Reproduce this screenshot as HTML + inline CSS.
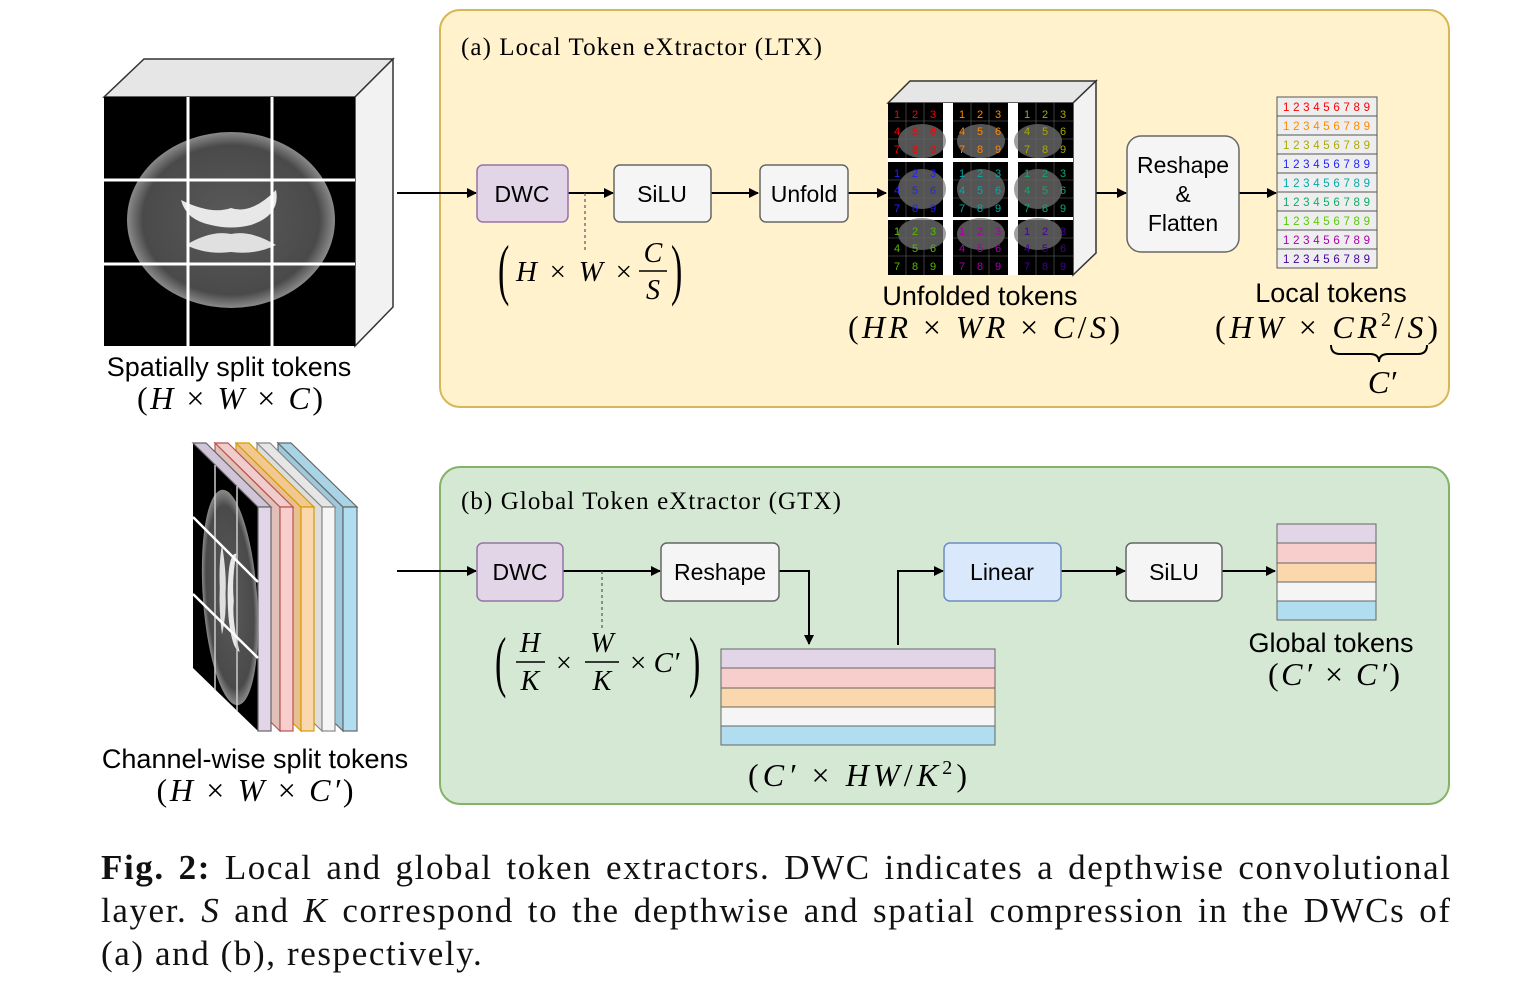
<!DOCTYPE html>
<html><head><meta charset="utf-8"><style>
html,body{margin:0;padding:0;background:#fff;width:1533px;height:994px;overflow:hidden;position:relative}
svg{position:absolute;left:0;top:0}
.s{font-family:"Liberation Sans",sans-serif}
.m{font-family:"Liberation Serif",serif;font-style:italic}
.r{font-family:"Liberation Serif",serif;font-style:normal}
#cap{position:absolute;left:101px;top:846px;width:1349px;font-family:"Liberation Serif",serif;font-size:35px;line-height:43px;color:#111;letter-spacing:1.6px}
#cap div{white-space:nowrap}
#cap .j{text-align:justify;text-align-last:justify;white-space:normal;margin-right:-1.6px}
#cap i{font-style:italic}
</style></head><body>
<svg width="1533" height="994" viewBox="0 0 1533 994">
<defs>
<marker id="a" markerWidth="10" markerHeight="10" refX="9" refY="5" orient="auto" markerUnits="userSpaceOnUse"><path d="M0,0 L10,5 L0,10 z" fill="#000"/></marker>
<radialGradient id="bg" cx="50%" cy="50%" r="50%"><stop offset="0" stop-color="#5a5a5a"/><stop offset="0.85" stop-color="#4a4a4a"/><stop offset="1" stop-color="#8a8a8a"/></radialGradient>
<g id="brain">
<ellipse cx="0" cy="0" rx="104" ry="88" fill="url(#bg)"/>
<path d="M-50,-20 Q-20,-5 0,-12 Q20,-5 45,-30 Q50,-5 20,5 Q0,10 -20,5 Q-45,0 -50,-20z" fill="#e8e8e8"/>
<path d="M-45,25 Q-20,10 0,14 Q20,10 45,25 Q25,35 0,32 Q-25,35 -45,25z" fill="#e0e0e0"/>
</g>
</defs>

<!-- panels -->
<rect x="440" y="10" width="1009" height="397" rx="20" fill="#fff2cc" stroke="#d6b656" stroke-width="2"/>
<rect x="440" y="467" width="1009" height="337" rx="20" fill="#d5e8d4" stroke="#82b366" stroke-width="2"/>
<text x="461" y="55" class="r" font-size="25" textLength="361">(a) Local Token eXtractor (LTX)</text>
<text x="461" y="509" class="r" font-size="25" textLength="380">(b) Global Token eXtractor (GTX)</text>

<!-- spatial cube -->
<polygon points="104,97 144,59 393,59 355,97" fill="#e6e6e6" stroke="#333" stroke-width="1.5"/>
<polygon points="355,97 393,59 393,307 355,346" fill="#f2f2f2" stroke="#333" stroke-width="1.5"/>
<rect x="104" y="97" width="251" height="249" fill="#000"/>
<use href="#brain" transform="translate(231,220)"/>
<g stroke="#fff" stroke-width="3"><line x1="188" y1="97" x2="188" y2="346"/><line x1="272" y1="97" x2="272" y2="346"/><line x1="104" y1="180" x2="355" y2="180"/><line x1="104" y1="264" x2="355" y2="264"/></g>
<text x="229" y="376" class="s" font-size="27" text-anchor="middle">Spatially split tokens</text>
<text x="230" y="409" class="m" font-size="32" text-anchor="middle" textLength="186" lengthAdjust="spacing"><tspan class="r">(</tspan>H <tspan class="r">×</tspan> W <tspan class="r">×</tspan> C<tspan class="r">)</tspan></text>

<!-- top flow -->
<g stroke="#000" stroke-width="2" fill="none">
<line x1="397" y1="193" x2="476" y2="193" marker-end="url(#a)"/>
<line x1="568" y1="193" x2="613" y2="193" marker-end="url(#a)"/>
<line x1="711" y1="193" x2="758" y2="193" marker-end="url(#a)"/>
<line x1="848" y1="193" x2="886" y2="193" marker-end="url(#a)"/>
<line x1="1088" y1="193" x2="1126" y2="193" marker-end="url(#a)"/>
<line x1="1239" y1="193" x2="1276" y2="193" marker-end="url(#a)"/>
</g>
<line x1="585" y1="193" x2="585" y2="250" stroke="#555" stroke-width="1.2" stroke-dasharray="3,3"/>
<rect x="477" y="165" width="91" height="57" rx="6" fill="#e1d5e7" stroke="#9673a6" stroke-width="1.5"/>
<text x="522" y="202" class="s" font-size="23" text-anchor="middle">DWC</text>
<rect x="614" y="165" width="97" height="57" rx="6" fill="#f5f5f5" stroke="#666" stroke-width="1.5"/>
<text x="662" y="202" class="s" font-size="23" text-anchor="middle">SiLU</text>
<rect x="760" y="165" width="88" height="57" rx="6" fill="#f5f5f5" stroke="#666" stroke-width="1.5"/>
<text x="804" y="202" class="s" font-size="23" text-anchor="middle">Unfold</text>

<!-- math (H x W x C/S) -->
<text x="498" y="146" class="r" font-size="34" transform="scale(1,2)">(</text>
<text x="516" y="281" class="m" font-size="29" textLength="116" lengthAdjust="spacing">H <tspan class="r">×</tspan> W <tspan class="r">×</tspan></text>
<text x="653" y="262" class="m" font-size="28" text-anchor="middle">C</text>
<line x1="639" y1="271" x2="667" y2="271" stroke="#000" stroke-width="1.5"/>
<text x="653" y="299" class="m" font-size="28" text-anchor="middle">S</text>
<text x="671" y="146" class="r" font-size="34" transform="scale(1,2)">)</text>

<!-- unfolded cube -->
<polygon points="888,103 910,81 1096,81 1073,103" fill="#e6e6e6" stroke="#333" stroke-width="1.5"/>
<polygon points="1073,103 1096,81 1096,253 1073,275" fill="#f2f2f2" stroke="#333" stroke-width="1.5"/>
<rect x="888" y="103" width="185" height="172" fill="#fff"/>
<g font-family="Liberation Sans,sans-serif" font-size="11" text-anchor="middle">
<g transform="translate(888,103)"><rect width="55" height="55" fill="#000"/><ellipse cx="34" cy="38" rx="24" ry="17" fill="#777" opacity=".7"/><g stroke="#666" stroke-width=".6"><path d="M18,0V55M36,0V55M0,18H55M0,36H55"/></g><g fill="#f00"><text x="9 27 45" y="15">123</text><text x="9 27 45" y="32">456</text><text x="9 27 45" y="50">789</text></g></g>
<g transform="translate(953,103)"><rect width="55" height="55" fill="#000"/><ellipse cx="28" cy="38" rx="24" ry="17" fill="#777" opacity=".7"/><g stroke="#666" stroke-width=".6"><path d="M18,0V55M36,0V55M0,18H55M0,36H55"/></g><g fill="#f80"><text x="9 27 45" y="15">123</text><text x="9 27 45" y="32">456</text><text x="9 27 45" y="50">789</text></g></g>
<g transform="translate(1018,103)"><rect width="55" height="55" fill="#000"/><ellipse cx="20" cy="38" rx="24" ry="17" fill="#777" opacity=".7"/><g stroke="#666" stroke-width=".6"><path d="M18,0V55M36,0V55M0,18H55M0,36H55"/></g><g fill="#aa0"><text x="9 27 45" y="15">123</text><text x="9 27 45" y="32">456</text><text x="9 27 45" y="50">789</text></g></g>
<g transform="translate(888,162)"><rect width="55" height="55" fill="#000"/><ellipse cx="34" cy="27" rx="24" ry="20" fill="#777" opacity=".7"/><g stroke="#666" stroke-width=".6"><path d="M18,0V55M36,0V55M0,18H55M0,36H55"/></g><g fill="#22f"><text x="9 27 45" y="15">123</text><text x="9 27 45" y="32">456</text><text x="9 27 45" y="50">789</text></g></g>
<g transform="translate(953,162)"><rect width="55" height="55" fill="#000"/><ellipse cx="28" cy="27" rx="24" ry="20" fill="#777" opacity=".7"/><g stroke="#666" stroke-width=".6"><path d="M18,0V55M36,0V55M0,18H55M0,36H55"/></g><g fill="#0aa"><text x="9 27 45" y="15">123</text><text x="9 27 45" y="32">456</text><text x="9 27 45" y="50">789</text></g></g>
<g transform="translate(1018,162)"><rect width="55" height="55" fill="#000"/><ellipse cx="20" cy="27" rx="24" ry="20" fill="#777" opacity=".7"/><g stroke="#666" stroke-width=".6"><path d="M18,0V55M36,0V55M0,18H55M0,36H55"/></g><g fill="#1a6"><text x="9 27 45" y="15">123</text><text x="9 27 45" y="32">456</text><text x="9 27 45" y="50">789</text></g></g>
<g transform="translate(888,220)"><rect width="55" height="55" fill="#000"/><ellipse cx="34" cy="14" rx="24" ry="16" fill="#777" opacity=".7"/><g stroke="#666" stroke-width=".6"><path d="M18,0V55M36,0V55M0,18H55M0,36H55"/></g><g fill="#5b0"><text x="9 27 45" y="15">123</text><text x="9 27 45" y="32">456</text><text x="9 27 45" y="50">789</text></g></g>
<g transform="translate(953,220)"><rect width="55" height="55" fill="#000"/><ellipse cx="28" cy="14" rx="24" ry="16" fill="#777" opacity=".7"/><g stroke="#666" stroke-width=".6"><path d="M18,0V55M36,0V55M0,18H55M0,36H55"/></g><g fill="#a0a"><text x="9 27 45" y="15">123</text><text x="9 27 45" y="32">456</text><text x="9 27 45" y="50">789</text></g></g>
<g transform="translate(1018,220)"><rect width="55" height="55" fill="#000"/><ellipse cx="20" cy="14" rx="24" ry="16" fill="#777" opacity=".7"/><g stroke="#666" stroke-width=".6"><path d="M18,0V55M36,0V55M0,18H55M0,36H55"/></g><g fill="#409"><text x="9 27 45" y="15">123</text><text x="9 27 45" y="32">456</text><text x="9 27 45" y="50">789</text></g></g>
</g>
<text x="980" y="305" class="s" font-size="27" text-anchor="middle">Unfolded tokens</text>
<text x="984" y="338" class="m" font-size="32" text-anchor="middle" textLength="272" lengthAdjust="spacing"><tspan class="r">(</tspan>HR <tspan class="r">×</tspan> WR <tspan class="r">×</tspan> C<tspan class="r">/</tspan>S<tspan class="r">)</tspan></text>

<rect x="1127" y="136" width="112" height="116" rx="14" fill="#f5f5f5" stroke="#666" stroke-width="1.5"/>
<text x="1183" y="173" class="s" font-size="23" text-anchor="middle">Reshape</text>
<text x="1183" y="202" class="s" font-size="23" text-anchor="middle">&amp;</text>
<text x="1183" y="231" class="s" font-size="23" text-anchor="middle">Flatten</text>

<!-- local tokens -->
<g font-family="Liberation Sans,sans-serif" font-size="11.5">
<g stroke="#555" stroke-width="1" fill="#eee">
<rect x="1277" y="97" width="100" height="19"/><rect x="1277" y="116" width="100" height="19"/><rect x="1277" y="135" width="100" height="19"/><rect x="1277" y="154" width="100" height="19"/><rect x="1277" y="173" width="100" height="19"/><rect x="1277" y="192" width="100" height="19"/><rect x="1277" y="211" width="100" height="19"/><rect x="1277" y="230" width="100" height="19"/><rect x="1277" y="249" width="100" height="19"/>
</g>
<text x="1283" y="111" fill="#f00" textLength="87">123456789</text>
<text x="1283" y="130" fill="#f80" textLength="87">123456789</text>
<text x="1283" y="149" fill="#aa0" textLength="87">123456789</text>
<text x="1283" y="168" fill="#22f" textLength="87">123456789</text>
<text x="1283" y="187" fill="#0aa" textLength="87">123456789</text>
<text x="1283" y="206" fill="#1a6" textLength="87">123456789</text>
<text x="1283" y="225" fill="#5c0" textLength="87">123456789</text>
<text x="1283" y="244" fill="#a0a" textLength="87">123456789</text>
<text x="1283" y="263" fill="#409" textLength="87">123456789</text>
</g>
<text x="1331" y="302" class="s" font-size="27" text-anchor="middle">Local tokens</text>
<text x="1215" y="338" class="m" font-size="32" textLength="223" lengthAdjust="spacing"><tspan class="r">(</tspan>HW <tspan class="r">×</tspan> CR<tspan font-size="20" class="r" dy="-12">2</tspan><tspan dy="12" class="r">/</tspan>S<tspan class="r">)</tspan></text>
<path d="M1331,345 Q1331,354 1340,354 L1370,354 Q1379,354 1379,362 Q1379,354 1388,354 L1418,354 Q1427,354 1427,345" fill="none" stroke="#000" stroke-width="2"/>
<text x="1382" y="393" class="m" font-size="32" text-anchor="middle">C′</text>

<!-- channel-wise stack -->
<g stroke-width="1.2">
<polygon points="278,443 343,507 343,731 278,668" fill="#9ec8dc" stroke="#666"/><polygon points="278,443 291,443 357,507 343,507" fill="#a8d4e6" stroke="#666"/><rect x="343" y="507" width="14" height="224" fill="#b1ddf0" stroke="#666"/>
<polygon points="257,443 322,507 322,731 257,668" fill="#ddd" stroke="#888"/><polygon points="257,443 270,443 335,507 322,507" fill="#e6e6e6" stroke="#888"/><rect x="322" y="507" width="13" height="224" fill="#f5f5f5" stroke="#888"/>
<polygon points="236,443 301,507 301,731 236,668" fill="#e8c090" stroke="#d79b00"/><polygon points="236,443 249,443 314,507 301,507" fill="#f0c890" stroke="#d79b00"/><rect x="301" y="507" width="13" height="224" fill="#fad7ac" stroke="#d79b00"/>
<polygon points="215,443 280,507 280,731 215,668" fill="#e0c0b8" stroke="#b85450"/><polygon points="215,443 228,443 293,507 280,507" fill="#f0cccc" stroke="#b85450"/><rect x="280" y="507" width="13" height="224" fill="#f8cecc" stroke="#b85450"/>
<polygon points="193,443 258,507 258,731 193,668" fill="#000"/><polygon points="193,443 206,443 271,507 258,507" fill="#d0c4d8" stroke="#666"/><rect x="258" y="507" width="13" height="224" fill="#e1d5e7" stroke="#666"/>
</g>
<g transform="matrix(1,0.985,0,1,193,443) translate(37,118) scale(0.32,1.0) rotate(90)"><use href="#brain"/></g>
<g stroke="#ccc" stroke-width="1.5"><line x1="215" y1="465" x2="215" y2="690"/><line x1="237" y1="486" x2="237" y2="711"/></g>
<g stroke="#fff" stroke-width="2.5"><line x1="193" y1="517" x2="258" y2="582"/><line x1="193" y1="594" x2="258" y2="658"/></g>
<text x="255" y="768" class="s" font-size="27" text-anchor="middle">Channel-wise split tokens</text>
<text x="255" y="801" class="m" font-size="32" text-anchor="middle" textLength="197" lengthAdjust="spacing"><tspan class="r">(</tspan>H <tspan class="r">×</tspan> W <tspan class="r">×</tspan> C′<tspan class="r">)</tspan></text>

<!-- bottom flow -->
<g stroke="#000" stroke-width="2" fill="none">
<line x1="397" y1="571" x2="476" y2="571" marker-end="url(#a)"/>
<line x1="563" y1="571" x2="660" y2="571" marker-end="url(#a)"/>
<polyline points="779,571 809,571 809,644" marker-end="url(#a)"/>
<polyline points="898,645 898,571 943,571" marker-end="url(#a)"/>
<line x1="1061" y1="571" x2="1125" y2="571" marker-end="url(#a)"/>
<line x1="1222" y1="571" x2="1275" y2="571" marker-end="url(#a)"/>
</g>
<line x1="602" y1="571" x2="602" y2="628" stroke="#555" stroke-width="1.2" stroke-dasharray="3,3"/>
<rect x="477" y="543" width="86" height="58" rx="6" fill="#e1d5e7" stroke="#9673a6" stroke-width="1.5"/>
<text x="520" y="580" class="s" font-size="23" text-anchor="middle">DWC</text>
<rect x="661" y="543" width="118" height="58" rx="6" fill="#f5f5f5" stroke="#666" stroke-width="1.5"/>
<text x="720" y="580" class="s" font-size="23" text-anchor="middle">Reshape</text>
<rect x="944" y="543" width="117" height="58" rx="6" fill="#dae8fc" stroke="#6c8ebf" stroke-width="1.5"/>
<text x="1002" y="580" class="s" font-size="23" text-anchor="middle">Linear</text>
<rect x="1126" y="543" width="96" height="58" rx="6" fill="#f5f5f5" stroke="#666" stroke-width="1.5"/>
<text x="1174" y="580" class="s" font-size="23" text-anchor="middle">SiLU</text>

<!-- math H/K x W/K x C' -->
<text x="495" y="342" class="r" font-size="34" transform="scale(1,2)">(</text>
<text x="530" y="652" class="m" font-size="28" text-anchor="middle">H</text>
<line x1="516" y1="662" x2="545" y2="662" stroke="#000" stroke-width="1.5"/>
<text x="530" y="690" class="m" font-size="28" text-anchor="middle">K</text>
<text x="556" y="672" class="r" font-size="28">×</text>
<text x="602" y="652" class="m" font-size="28" text-anchor="middle">W</text>
<line x1="585" y1="662" x2="619" y2="662" stroke="#000" stroke-width="1.5"/>
<text x="602" y="690" class="m" font-size="28" text-anchor="middle">K</text>
<text x="630" y="672" class="m" font-size="29"><tspan class="r">×</tspan> C′</text>
<text x="689" y="342" class="r" font-size="34" transform="scale(1,2)">)</text>

<!-- table -->
<g stroke="#666" stroke-width="1">
<rect x="721" y="649" width="274" height="19" fill="#e1d5e7"/>
<rect x="721" y="668" width="274" height="20" fill="#f8cecc"/>
<rect x="721" y="688" width="274" height="19" fill="#fad7ac"/>
<rect x="721" y="707" width="274" height="19" fill="#f5f5f5"/>
<rect x="721" y="726" width="274" height="19" fill="#b1ddf0"/>
</g>
<text x="748" y="786" class="m" font-size="32" textLength="219" lengthAdjust="spacing"><tspan class="r">(</tspan>C′ <tspan class="r">×</tspan> HW<tspan class="r">/</tspan>K<tspan class="r" font-size="20" dy="-12">2</tspan><tspan class="r" dy="12">)</tspan></text>

<!-- global tokens -->
<g stroke="#666" stroke-width="1">
<rect x="1277" y="524" width="99" height="19" fill="#e1d5e7"/>
<rect x="1277" y="543" width="99" height="20" fill="#f8cecc"/>
<rect x="1277" y="563" width="99" height="19" fill="#fad7ac"/>
<rect x="1277" y="582" width="99" height="19" fill="#f5f5f5"/>
<rect x="1277" y="601" width="99" height="19" fill="#b1ddf0"/>
</g>
<text x="1331" y="652" class="s" font-size="27" text-anchor="middle">Global tokens</text>
<text x="1334" y="685" class="m" font-size="32" text-anchor="middle" textLength="132" lengthAdjust="spacing"><tspan class="r">(</tspan>C′ <tspan class="r">×</tspan> C′<tspan class="r">)</tspan></text>
</svg>
<div id="cap">
<div class="j"><b>Fig. 2:</b> Local and global token extractors. DWC indicates a depthwise convolutional</div>
<div class="j">layer. <i>S</i> and <i>K</i> correspond to the depthwise and spatial compression in the DWCs of</div>
<div>(a) and (b), respectively.</div>
</div>
</body></html>
